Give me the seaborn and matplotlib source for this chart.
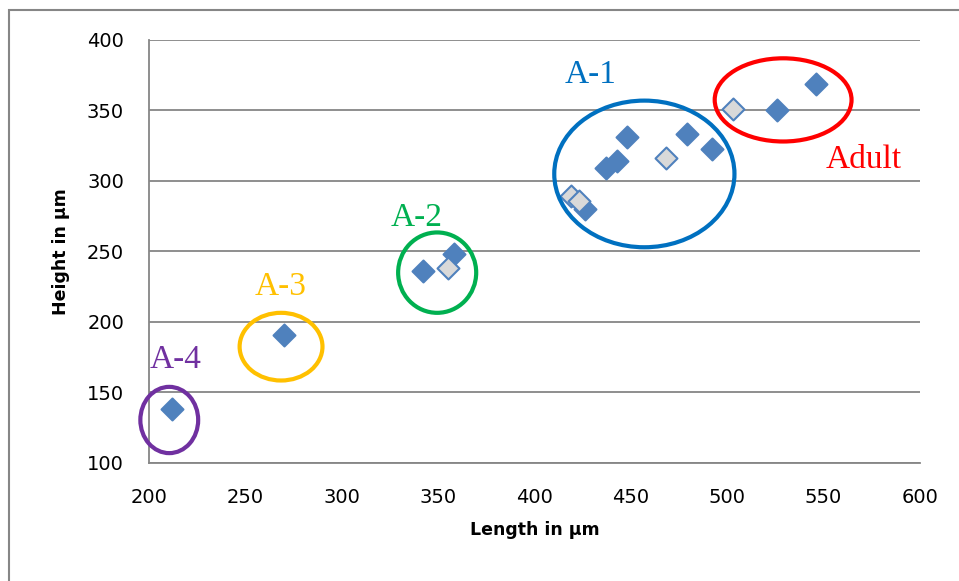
import pandas as pd
import numpy as np
import seaborn as sns
import matplotlib.pyplot as plt
from matplotlib.patches import Ellipse, Rectangle

# Measured specimens (filled diamonds)
length_dark = [212, 270, 342, 358, 426, 437, 443, 448, 479, 492, 526, 546]
height_dark = [138, 191, 236, 248, 280, 309, 314, 331, 333, 323, 350, 369]
# Second set (light diamonds)
length_light = [355, 419, 423, 468, 503]
height_light = [238, 289, 286, 316, 351]

# Stage groups: label, colour, ellipse centre / size (data units), label position
groups = ["A-4", "A-3", "A-2", "A-1", "Adult"]
group_colors = ["#7030A0", "#FFC000", "#00B050", "#0070C0", "#FF0000"]
ell_x = [210.5, 268.5, 349.5, 457, 529]
ell_y = [130.5, 182.5, 235, 305, 357.5]
ell_w = [30, 43, 40.5, 93.5, 71]
ell_h = [47, 48, 57, 104, 59]
label_x = [214, 268.5, 339, 429, 571]
label_y = [173, 225, 274, 375, 315]

df = pd.DataFrame({
    "Length": length_dark + length_light,
    "Height": height_dark + height_light,
    "set": ["dark"] * len(length_dark) + ["light"] * len(length_light),
})

sns.set_style("white")
plt.rcParams["font.family"] = ["DejaVu Sans"]

fig = plt.figure(figsize=(9.59, 5.81), dpi=100)
ax = fig.add_axes([0.1554, 0.2031, 0.8039, 0.7281])

for s, face in [("dark", "#4F81BD"), ("light", "#D9D9D9")]:
    sub = df[df["set"] == s]
    sns.scatterplot(data=sub, x="Length", y="Height", marker="D", s=125,
                    color=face, edgecolor="#4F81BD", linewidth=1.5, ax=ax, zorder=3)

for i, g in enumerate(groups):
    ax.add_patch(Ellipse((ell_x[i], ell_y[i]), ell_w[i], ell_h[i], fill=False,
                         edgecolor=group_colors[i], linewidth=3, zorder=4,
                         clip_on=False))
    ax.text(label_x[i], label_y[i], g, color=group_colors[i], fontsize=24,
            family="Liberation Serif", ha="center", va="center")

ax.set_xlim(200, 600)
ax.set_ylim(100, 400)
ax.set_xticks(np.arange(200, 601, 50))
ax.set_yticks(np.arange(100, 401, 50))
ax.yaxis.grid(True, color="#868686", linewidth=1.3)
ax.xaxis.grid(False)
ax.tick_params(length=0, labelsize=14, pad=18, labelcolor="black")
for side in ["top", "right"]:
    ax.spines[side].set_visible(False)
for side in ["left", "bottom"]:
    ax.spines[side].set_color("#868686")
    ax.spines[side].set_linewidth(1.3)

ax.set_xlabel("Length in µm", fontsize=12.5, fontweight="bold", labelpad=10,
              color="black")
ax.set_ylabel("Height in µm", fontsize=12.5, fontweight="bold", labelpad=12,
              color="black")
leg = ax.get_legend()
if leg:
    leg.remove()

# outer chart frame
fig.patches.append(Rectangle((9 / 959, -0.1), 1.2, 1 - 10 / 581 + 0.1, fill=False,
                             edgecolor="#868686", linewidth=1.5,
                             transform=fig.transFigure, figure=fig))

fig.savefig("out.png", dpi=100)
